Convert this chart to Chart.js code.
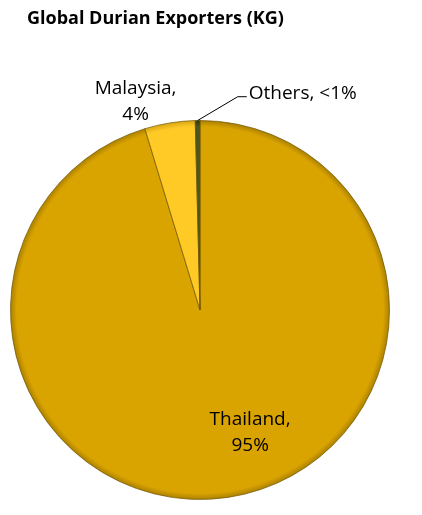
<!DOCTYPE html>
<html>
<head>
<meta charset="utf-8">
<script src="https://cdn.jsdelivr.net/npm/chart.js@4"></script>
<style>
  html, body { margin: 0; padding: 0; background: #fff; }
  #wrap { width: 422px; height: 515px; }
</style>
</head>
<body>
<div id="wrap"><canvas id="pieChart"></canvas></div>
<script>
const chartTitle = "Global Durian Exporters (KG)";
const countries = ["Thailand", "Malaysia", "Others"];
const shares = [95.3, 4.3, 0.4];
const shareLabels = ["95%", "4%", "<1%"];

const fills = ["#D9A300", "#FFC926", "#4A5520"];
const rims = ["#A87E00", "#D4A514", "#2E3612"];
// where each label block sits: angle (deg) and distance (x radius) from the centre
const labelSpots = [
  { a: 67.8, d: 0.70, lines: 2 },
  { a: -107.2, d: 1.15, lines: 2 },
  { a: -77.3, d: 1.17, lines: 1, leader: true }
];

// flat fill with a thin darker rim, like the bevelled original
function sliceFill(ctx) {
  const chart = ctx.chart;
  const area = chart.chartArea;
  if (!area) return fills[ctx.dataIndex];
  const cx = (area.left + area.right) / 2, cy = (area.top + area.bottom) / 2;
  const r = Math.min(area.right - area.left, area.bottom - area.top) / 2;
  const g = chart.ctx.createRadialGradient(cx, cy, 0, cx, cy, r);
  g.addColorStop(0, fills[ctx.dataIndex]);
  g.addColorStop(0.965, fills[ctx.dataIndex]);
  g.addColorStop(1, rims[ctx.dataIndex]);
  return g;
}

const labelPlugin = {
  id: "sliceLabels",
  afterDatasetsDraw(chart) {
    const ctx = chart.ctx;
    const arcs = chart.getDatasetMeta(0).data;
    ctx.save();
    ctx.fillStyle = "#000";
    ctx.textBaseline = "middle";

    ctx.font = "bold 18px 'Open Sans'";
    ctx.textAlign = "left";
    ctx.fillText(chartTitle, 27, 19);

    ctx.font = "19px 'Open Sans'";
    arcs.forEach((arc, i) => {
      const spot = labelSpots[i];
      const rad = spot.a * Math.PI / 180;
      const x = arc.x + Math.cos(rad) * arc.outerRadius * spot.d;
      const y = arc.y + Math.sin(rad) * arc.outerRadius * spot.d;
      if (spot.leader) {
        const mid = (arc.startAngle + arc.endAngle) / 2;
        const sx = arc.x + Math.cos(mid) * arc.outerRadius;
        const sy = arc.y + Math.sin(mid) * arc.outerRadius;
        ctx.strokeStyle = "#000";
        ctx.lineWidth = 1;
        ctx.beginPath();
        ctx.moveTo(sx, sy);
        ctx.lineTo(x - 11, y + 3);
        ctx.lineTo(x - 2, y + 3);
        ctx.stroke();
        ctx.textAlign = "left";
        ctx.fillText(countries[i] + ", " + shareLabels[i], x, y);
      } else {
        ctx.textAlign = "center";
        ctx.fillText(countries[i] + ",", x, y - 13);
        ctx.fillText(shareLabels[i], x, y + 13);
      }
    });
    ctx.restore();
  }
};

new Chart(document.getElementById("pieChart"), {
  type: "pie",
  data: {
    labels: countries,
    datasets: [{
      data: shares,
      backgroundColor: sliceFill,
      borderColor: "rgba(110,85,0,0.7)",
      borderWidth: 1
    }]
  },
  options: {
    responsive: true,
    maintainAspectRatio: false,
    animation: false,
    layout: { padding: { top: 120, left: 10, right: 32, bottom: 15 } },
    plugins: {
      legend: { display: false },
      tooltip: { enabled: false },
      title: { display: false }
    }
  },
  plugins: [labelPlugin]
});
</script>
</body>
</html>
